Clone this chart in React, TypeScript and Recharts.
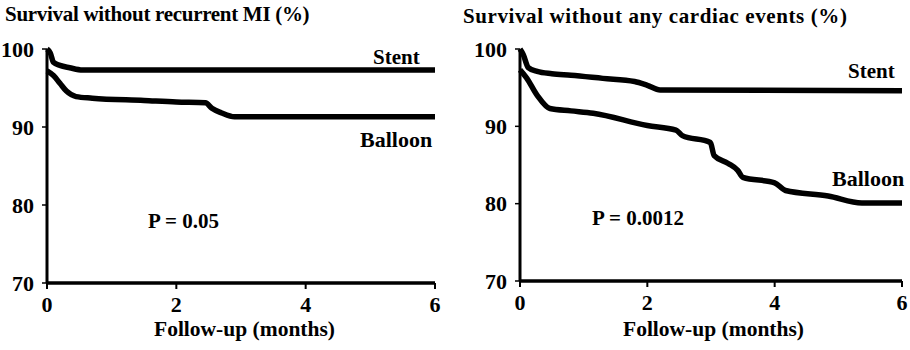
import React from "react";
import { LineChart, Line, XAxis, YAxis } from "recharts";

const monthTicks = [0, 2, 4, 6];
const pctTicks = [70, 80, 90, 100];

// Survival without recurrent MI
const miStentMonths = [0, 0.05, 0.1, 0.2, 0.35, 0.55, 6];
const miStentValues = [100, 99.5, 98.3, 97.9, 97.6, 97.3, 97.3];
const miBalloonMonths = [0, 0.1, 0.2, 0.3, 0.45, 0.7, 1.5, 2.0, 2.45, 2.55, 2.7, 2.9, 6];
const miBalloonValues = [97.2, 96.6, 95.6, 94.6, 93.9, 93.7, 93.4, 93.2, 93.1, 92.4, 91.8, 91.3, 91.3];

// Survival without any cardiac events
const anyStentMonths = [0, 0.05, 0.13, 0.27, 0.5, 0.8, 1.3, 1.8, 2.0, 2.2, 6];
const anyStentValues = [100, 99.3, 97.6, 97.1, 96.8, 96.6, 96.2, 95.8, 95.3, 94.7, 94.6];
const anyBalloonMonths = [0, 0.1, 0.27, 0.47, 0.8, 1.15, 2.0, 2.45, 2.55, 2.99, 3.05, 3.27, 3.42, 3.5, 4.0, 4.17, 4.84, 5.37, 6];
const anyBalloonValues = [97.3, 96.3, 94.0, 92.3, 92.0, 91.7, 90.1, 89.5, 88.8, 87.9, 86.2, 85.2, 84.3, 83.4, 82.7, 81.7, 81.0, 80.1, 80.1];

const zip = (ms: number[], vs: number[]) => ms.map((m, i) => ({ m, v: vs[i] }));

const font = "Liberation Serif, Tinos, serif";
const tickStyle = { fontFamily: font, fontWeight: 700, fontSize: 22, fill: "#000" };

interface PanelProps {
  left: number;
  width: number;
  top: number;
  bottom: number;
  rightMargin: number;
  yAxisWidth: number;
  yTickMargin: number;
  stent: { m: number; v: number }[];
  balloon: { m: number; v: number }[];
}

function Panel({ left, width, top, bottom, rightMargin, yAxisWidth, yTickMargin, stent, balloon }: PanelProps) {
  return (
    <div style={{ position: "absolute", left, top: 0 }}>
      <LineChart
        width={width}
        height={350}
        margin={{ top, right: rightMargin, left: 0, bottom }}
      >
        <XAxis
          dataKey="m"
          type="number"
          domain={[0, 6]}
          ticks={monthTicks}
          allowDuplicatedCategory={false}
          height={30}
          tick={tickStyle}
          tickSize={6}
          tickMargin={7}
          axisLine={{ stroke: "#000", strokeWidth: 3.5 }}
          tickLine={{ stroke: "#000", strokeWidth: 2 }}
        />
        <YAxis
          type="number"
          domain={[70, 100]}
          ticks={pctTicks}
          width={yAxisWidth}
          tick={tickStyle}
          tickSize={5}
          tickMargin={yTickMargin}
          axisLine={{ stroke: "#000", strokeWidth: 3 }}
          tickLine={{ stroke: "#000", strokeWidth: 1.5 }}
        />
        <Line
          data={stent}
          dataKey="v"
          type="monotone"
          stroke="#000"
          strokeWidth={5.5}
          dot={false}
          isAnimationActive={false}
        />
        <Line
          data={balloon}
          dataKey="v"
          type="monotone"
          stroke="#000"
          strokeWidth={5.5}
          dot={false}
          isAnimationActive={false}
        />
      </LineChart>
    </div>
  );
}

const textBase: React.CSSProperties = {
  position: "absolute",
  fontFamily: font,
  fontWeight: 700,
  color: "#000",
  whiteSpace: "nowrap",
  lineHeight: 1,
};

export default function App() {
  return (
    <div style={{ position: "absolute", left: 0, top: 0, width: 910, height: 350, background: "#fff" }}>
      <Panel left={0} width={460} top={49} bottom={37} rightMargin={25} yAxisWidth={47} yTickMargin={8}
        stent={zip(miStentMonths, miStentValues)} balloon={zip(miBalloonMonths, miBalloonValues)} />
      <Panel left={460} width={450} top={49} bottom={39} rightMargin={8} yAxisWidth={60} yTickMargin={8}
        stent={zip(anyStentMonths, anyStentValues)} balloon={zip(anyBalloonMonths, anyBalloonValues)} />

      <div style={{ ...textBase, left: 5, top: 4, fontSize: 21, letterSpacing: -0.3 }}>Survival without recurrent MI (%)</div>
      <div style={{ ...textBase, left: 463, top: 6, fontSize: 21, letterSpacing: 0.6 }}>Survival without any cardiac events (%)</div>

      <div style={{ ...textBase, left: 373, top: 47, fontSize: 21 }}>Stent</div>
      <div style={{ ...textBase, left: 360, top: 129, fontSize: 22 }}>Balloon</div>
      <div style={{ ...textBase, left: 148, top: 211, fontSize: 21 }}>P = 0.05</div>
      <div style={{ ...textBase, left: 154, top: 319, fontSize: 21.5 }}>Follow-up (months)</div>

      <div style={{ ...textBase, left: 848, top: 61, fontSize: 21 }}>Stent</div>
      <div style={{ ...textBase, left: 832, top: 168, fontSize: 22 }}>Balloon</div>
      <div style={{ ...textBase, left: 592, top: 208, fontSize: 21 }}>P = 0.0012</div>
      <div style={{ ...textBase, left: 623, top: 319, fontSize: 21.5 }}>Follow-up (months)</div>
    </div>
  );
}
